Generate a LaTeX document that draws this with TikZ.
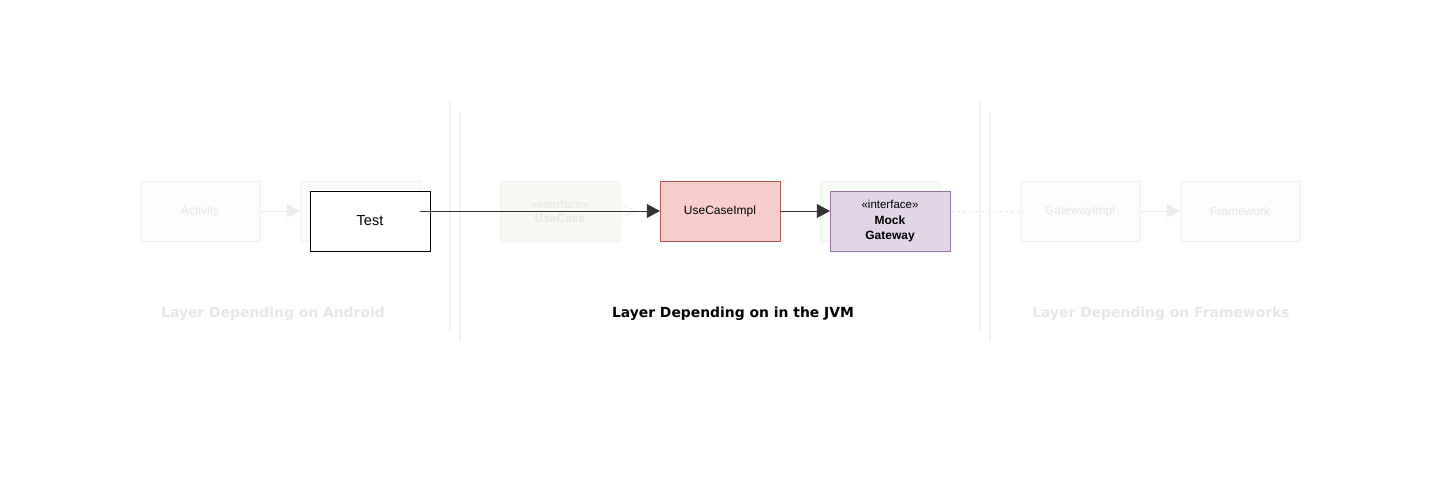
\documentclass[tikz,border=0pt]{standalone}
\usepackage{fontspec}
\setmainfont{Liberation Sans}
\newfontfamily\verd{DejaVu Sans}
\usetikzlibrary{arrows.meta}
\definecolor{fadefill}{HTML}{FBFCFE}
\definecolor{fadedraw}{HTML}{EEF0F5}
\definecolor{fadetext}{HTML}{E6E6E6}
\definecolor{greenfill}{HTML}{F6FAF2}
\definecolor{greendraw}{HTML}{F1F6EC}
\definecolor{redfill}{HTML}{F8CECC}
\definecolor{reddraw}{HTML}{B85450}
\definecolor{purpfill}{HTML}{E1D5E7}
\definecolor{purpdraw}{HTML}{9673A6}
\definecolor{sepline}{HTML}{F2F2F2}
\definecolor{arr}{HTML}{333333}
\definecolor{fadearr}{HTML}{EBEBEB}
\tikzset{
  box/.style={minimum width=120pt, minimum height=60pt, inner sep=0pt, align=center, font=\fontsize{12}{14}\selectfont},
  fadebox/.style={box, fill=fadefill, draw=fadedraw, text=fadetext},
  greenbox/.style={box, fill=greenfill, draw=greendraw, text=fadetext},
  dep/.style={draw=arr, line width=0.8pt, -{Triangle[length=13pt,width=14pt]}},
  fadedep/.style={draw=fadearr, line width=0.8pt, -{Triangle[length=13pt,width=14pt,fill=fadearr]}},
  layer/.style={font=\verd\bfseries\fontsize{13.9}{16}\selectfont},
  sep/.style={draw=sepline, line width=1.2pt}
}
\begin{document}
\begin{tikzpicture}[x=1pt,y=-1pt]
\useasboundingbox (0,0) rectangle (1441,482);
% separators
\coordinate (s1a) at (450,101); \coordinate (s1b) at (450,331);
\coordinate (s2a) at (460,111); \coordinate (s2b) at (460,341);
\coordinate (s3a) at (980,101); \coordinate (s3b) at (980,331);
\coordinate (s4a) at (990,111); \coordinate (s4b) at (990,341);
\draw[sep] (s1a) -- (s1b);
\draw[sep] (s2a) -- (s2b);
\draw[sep] (s3a) -- (s3b);
\draw[sep] (s4a) -- (s4b);
% faded nodes
\node[fadebox] (act) at (200,211) {Activity};
\node[fadebox] (pres) at (360,211) {};
\node[greenbox] (uc) at (560,211) {{\fontsize{11.5}{13}\selectfont «interface»}\\\textbf{UseCase}};
\node[greenbox] (gw) at (880,211) {};
\node[fadebox] (gwi) at (1080,211) {GatewayImpl};
\node[fadebox] (fw) at (1240,211) {Framework};
\draw[fadedep] (act) -- (pres);
\draw[fadedep] (gwi) -- (fw);
\draw[fadearr, line width=0.8pt, dash pattern=on 3pt off 3pt] (gwi.west) -- (gw.east);
% main nodes
\node[box, fill=redfill, draw=reddraw] (uci) at (720,211) {UseCaseImpl};
\draw[fadearr, line width=0.8pt] ([xshift=3pt,yshift=-6pt]uc.east) -- ([xshift=15pt]uc.east) -- ([xshift=3pt,yshift=6pt]uc.east);
\node[box, fill=white, draw=black, font=\fontsize{14.5}{16}\selectfont] (test) at (370,221) {Test};
\node[box, fill=purpfill, draw=purpdraw] (mock) at (890,221) {{\fontsize{11.5}{13}\selectfont «interface»}\\[1.5pt]\textbf{Mock}\\[1pt]\textbf{Gateway}};
\coordinate (tstart) at (420,211);
\draw[dep] (tstart) -- (uci.west);
\draw[dep] (uci.east) -- (uci.east -| mock.west);
% layer labels
\node[layer, text=fadetext] (l1) at (273,314) {Layer Depending on Android};
\node[layer, text=black] (l2) at (733,314) {Layer Depending on in the JVM};
\node[layer, text=fadetext] (l3) at (1161,314) {Layer Depending on Frameworks};
\end{tikzpicture}
\end{document}
